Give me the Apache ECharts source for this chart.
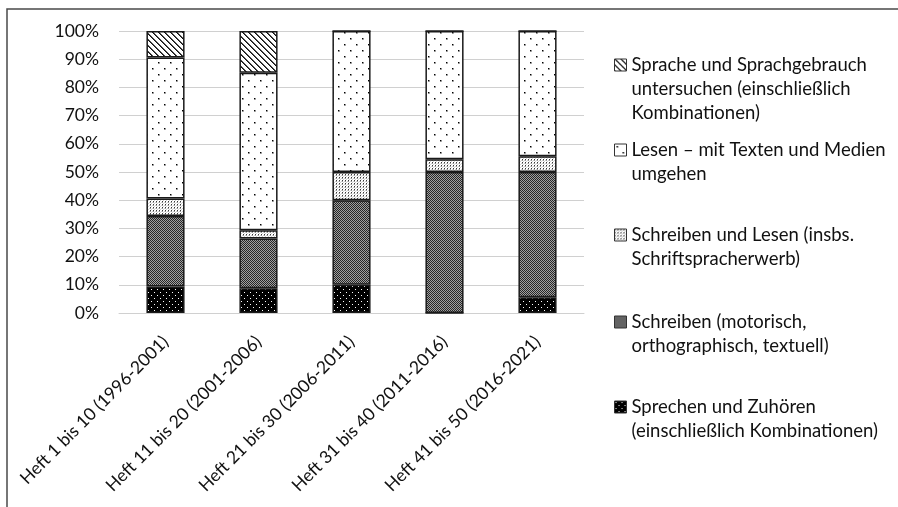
<!DOCTYPE html>
<html>
<head>
<meta charset="utf-8">
<script src="https://cdn.jsdelivr.net/npm/echarts@6/dist/echarts.min.js"></script>
<style>
  html, body { margin: 0; padding: 0; background: #ffffff; }
  #chart { width: 898px; height: 507px; }
</style>
</head>
<body>
<div id="chart"></div>
<script>
// Zeiträume (Hefte)
const categories = [
  'Heft 1 bis 10 (1996-2001)',
  'Heft 11 bis 20 (2001-2006)',
  'Heft 21 bis 30 (2006-2011)',
  'Heft 31 bis 40 (2011-2016)',
  'Heft 41 bis 50 (2016-2021)'
];

// Anteile je Kompetenzbereich in Prozent
const sprechen       = [9.4, 8.8, 10.0, 0.0, 5.6];
const schreiben      = [25.0, 17.6, 30.0, 50.0, 44.4];
const schreibenLesen = [6.2, 2.9, 10.0, 4.5, 5.6];
const lesen          = [50.0, 55.9, 50.0, 45.5, 44.4];
const sprache        = [9.4, 14.8, 0.0, 0.0, 0.0];

// Y-Achse
const yTicks = [0, 10, 20, 30, 40, 50, 60, 70, 80, 90, 100];

// Legendentexte (mit Zeilenumbrüchen)
const seriesNames = [
  'Sprechen und Zuhören (einschließlich Kombinationen)',
  'Schreiben (motorisch, orthographisch, textuell)',
  'Schreiben und Lesen (insbs. Schriftspracherwerb)',
  'Lesen – mit Texten und Medien umgehen',
  'Sprache und Sprachgebrauch untersuchen (einschließlich Kombinationen)'
];
const legendLines = [
  ['Sprechen und Zuhören', '(einschließlich Kombinationen)'],
  ['Schreiben (motorisch,', 'orthographisch, textuell)'],
  ['Schreiben und Lesen (insbs.', 'Schriftspracherwerb)'],
  ['Lesen – mit Texten und Medien', 'umgehen'],
  ['Sprache und Sprachgebrauch', 'untersuchen (einschließlich', 'Kombinationen)']
];
const seriesValues = [sprechen, schreiben, schreibenLesen, lesen, sprache];

// --- Schraffur-Muster als Kachel-Canvas ---
function tile(size, bg, draw) {
  const c = document.createElement('canvas');
  c.width = size; c.height = size;
  const g = c.getContext('2d');
  g.fillStyle = bg;
  g.fillRect(0, 0, size, size);
  draw(g, size);
  return c;
}
function px(g, x, y, col) { g.fillStyle = col; g.fillRect(x, y, 1, 1); }

const patterns = [
  // schwarz mit weißen Punkten
  tile(6, '#000000', (g) => { px(g, 1, 1, '#ffffff'); px(g, 4, 4, '#ffffff'); }),
  // dunkles Raster
  tile(2, '#a0a0a0', (g) => { px(g, 0, 0, '#262626'); px(g, 1, 1, '#262626'); }),
  // helles Raster
  tile(3, '#ffffff', (g) => {
    px(g, 0, 0, '#3a3a3a'); px(g, 0, 1, '#9a9a9a');
    px(g, 2, 1, '#cfcfcf'); px(g, 1, 2, '#cfcfcf');
  }),
  // weiß mit vereinzelten Punkten
  tile(12, '#ffffff', (g) => {
    px(g, 2, 2, '#000000'); px(g, 3, 2, '#8a8a8a'); px(g, 2, 3, '#8a8a8a'); px(g, 3, 3, '#b0b0b0');
    px(g, 8, 8, '#000000'); px(g, 9, 8, '#8a8a8a'); px(g, 8, 9, '#8a8a8a'); px(g, 9, 9, '#b0b0b0');
  }),
  // diagonale Schraffur
  tile(6, '#ffffff', (g, s) => {
    for (let y = 0; y < s; y++) for (let x = 0; x < s; x++) {
      const d = ((x - y) % s + s) % s;
      if (d < 2) px(g, x, y, d === 0 ? '#111111' : '#555555');
    }
  })
];

const FONT = 'Lato';
const FS = 17.5;
const LEGEND_FS = 18.5;

const series = seriesNames.map((name, i) => ({
  name: name,
  type: 'bar',
  stack: 'gesamt',
  barWidth: '41%',
  data: seriesValues[i],
  itemStyle: {
    color: { image: patterns[i], repeat: 'repeat' },
    borderColor: '#1a1a1a',
    borderWidth: 1.5
  },
  emphasis: { disabled: true }
}));

// Eine Legende je Eintrag; führende Leerzeilen setzen das Symbol
// auf die Höhe der ersten Textzeile.
const firstLineCenters = [407, 322, 235, 150, 65];
const LH = 24;
const legends = seriesNames.map((name, i) => {
  const n = legendLines[i].length;
  const lead = '\n'.repeat(n - 1);
  return {
    show: true,
    orient: 'vertical',
    left: 614,
    top: firstLineCenters[i] - LH / 2 - (n - 1) * LH,
    padding: 0,
    itemWidth: 12,
    itemHeight: 12,
    icon: 'rect',
    data: [name],
    selectedMode: false,
    itemStyle: { borderColor: '#333333', borderWidth: 1 },
    formatter: () => lead + legendLines[i].join('\n'),
    textStyle: {
      fontFamily: FONT,
      fontSize: LEGEND_FS,
      color: '#111111',
      lineHeight: LH
    }
  };
});

const chart = echarts.init(document.getElementById('chart'), null, { renderer: 'canvas' });
chart.setOption({
  animation: false,
  backgroundColor: '#ffffff',
  grid: { left: 119, right: 314, top: 31, bottom: 194, containLabel: false },
  xAxis: {
    type: 'category',
    data: categories,
    axisLine: { show: true, lineStyle: { color: '#d0d0d0', width: 1 } },
    axisTick: { show: false },
    axisLabel: {
      rotate: 45,
      margin: 26,
      interval: 0,
      fontFamily: FONT,
      fontSize: FS,
      color: '#111111'
    }
  },
  yAxis: {
    type: 'value',
    min: yTicks[0],
    max: yTicks[yTicks.length - 1],
    interval: yTicks[1] - yTicks[0],
    axisLine: { show: false },
    axisTick: { show: false },
    splitLine: { lineStyle: { color: '#d0d0d0', width: 1 } },
    axisLabel: {
      margin: 20,
      fontFamily: FONT,
      fontSize: FS,
      color: '#111111',
      formatter: (v) => v + '%'
    }
  },
  legend: legends,
  graphic: [{
    type: 'polyline',
    silent: true,
    shape: { points: [[7, 520], [7, 9], [910, 9]] },
    style: { stroke: '#4a4a4a', lineWidth: 1.5, fill: null }
  }],
  series: series
});
</script>
</body>
</html>
